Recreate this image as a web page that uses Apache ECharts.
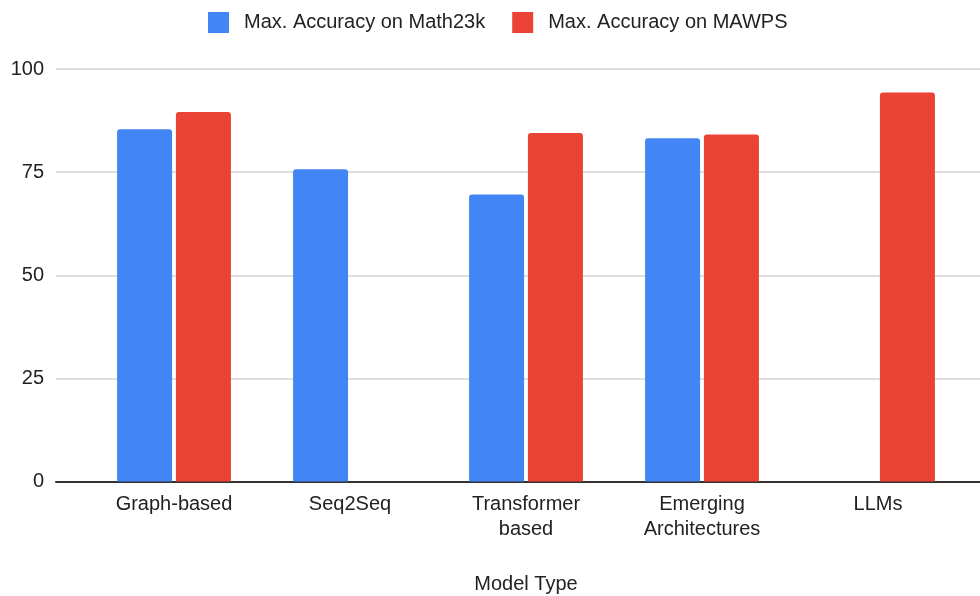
<!DOCTYPE html>
<html>
<head>
<meta charset="utf-8">
<script src="https://cdn.jsdelivr.net/npm/echarts@6/dist/echarts.min.js"></script>
<style>
html,body{margin:0;padding:0;background:#fff;}
#chart{width:980px;height:596px;}
</style>
</head>
<body>
<div id="chart"></div>
<script>
const categories = ['Graph-based', 'Seq2Seq', 'Transformer\nbased', 'Emerging\nArchitectures', 'LLMs'];
const math23k = [85.4, 75.7, 69.6, 83.2, null];
const mawps = [89.6, null, 84.5, 84.1, 94.3];
const seriesNames = ['Max. Accuracy on Math23k', 'Max. Accuracy on MAWPS'];
const yTicks = [0, 25, 50, 75, 100];

const FONT = 'Liberation Sans, Arial, sans-serif';
const chart = echarts.init(document.getElementById('chart'), null, {renderer: 'canvas'});
chart.setOption({
  backgroundColor: '#fff',
  animation: false,
  legend: {
    data: seriesNames,
    left: 208,
    top: 12,
    padding: 0,
    itemWidth: 21,
    itemHeight: 21,
    itemGap: 27,
    icon: 'rect',
    textStyle: {fontFamily: FONT, fontSize: 20, color: '#222', padding: [2, 0, 0, 10]}
  },
  grid: [
    {left: 56, right: 0, top: 69, bottom: 114.5, outerBoundsMode: 'none', containLabel: false},
    {left: 86, right: 14, top: 69, bottom: 114.5, outerBoundsMode: 'none', containLabel: false}
  ],
  xAxis: [
    {
      gridIndex: 0, type: 'category', data: categories,
      axisLabel: {show: false}, axisTick: {show: false},
      axisLine: {show: true, lineStyle: {color: '#333', width: 2}},
      splitLine: {show: false}
    },
    {
      gridIndex: 1, type: 'category', data: categories,
      axisTick: {show: false}, axisLine: {show: false},
      axisLabel: {fontFamily: FONT, fontSize: 20, color: '#222', margin: 10, lineHeight: 25, interval: 0},
      name: 'Model Type', nameLocation: 'middle', nameGap: 93,
      nameTextStyle: {fontFamily: FONT, fontSize: 20, color: '#222'}
    }
  ],
  yAxis: [
    {
      gridIndex: 0, type: 'value', min: yTicks[0], max: yTicks[yTicks.length - 1], interval: 25,
      axisLine: {show: false}, axisTick: {show: false},
      axisLabel: {fontFamily: FONT, fontSize: 20, color: '#222', margin: 12},
      splitLine: {show: true, lineStyle: {color: '#d3d3d3', width: 1.5}}
    },
    {
      gridIndex: 1, type: 'value', min: 0, max: 100,
      show: false, splitLine: {show: false}
    }
  ],
  series: [
    {
      name: seriesNames[0], type: 'bar', xAxisIndex: 1, yAxisIndex: 1,
      data: math23k, barWidth: 55, barGap: '7%',
      itemStyle: {color: '#4285F4', borderRadius: [3, 3, 0, 0]}
    },
    {
      name: seriesNames[1], type: 'bar', xAxisIndex: 1, yAxisIndex: 1,
      data: mawps, barWidth: 55, barGap: '7%',
      itemStyle: {color: '#EA4335', borderRadius: [3, 3, 0, 0]}
    }
  ]
});
</script>
</body>
</html>
